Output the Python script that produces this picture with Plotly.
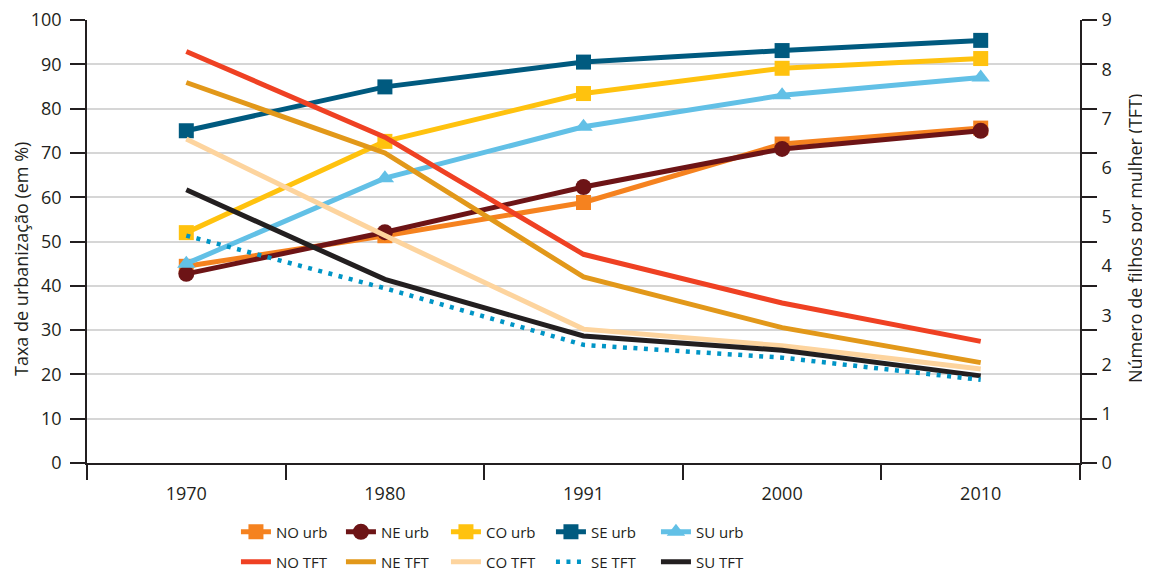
import plotly.graph_objects as go

years = ["1970", "1980", "1991", "2000", "2010"]

# Urbanization rate (%), left axis
no_urb = [44.4, 51.3, 58.8, 72.0, 75.6]
ne_urb = [42.7, 52.1, 62.3, 70.9, 75.0]
co_urb = [52.0, 72.6, 83.4, 89.1, 91.3]
se_urb = [75.0, 84.9, 90.5, 93.1, 95.4]
su_urb = [45.0, 64.3, 75.9, 83.0, 87.0]

# Total fertility rate (TFT), right axis
no_tft = [8.36, 6.62, 4.24, 3.25, 2.47]
ne_tft = [7.73, 6.30, 3.78, 2.75, 2.04]
co_tft = [6.58, 4.62, 2.72, 2.38, 1.91]
se_tft = [4.62, 3.55, 2.40, 2.14, 1.69]
su_tft = [5.55, 3.73, 2.58, 2.29, 1.77]

left_title = "Taxa de urbanização (em %)"
right_title = "Número de filhos por mulher (TFT)"

FONT = "Open Sans"
DARK = "#231f20"
TICK = 18

fig = go.Figure()

def tft(name, y, color, rank, dash="solid", width=5):
    fig.add_trace(go.Scatter(
        x=years, y=y, name=name, mode="lines", yaxis="y2",
        line=dict(color=color, width=width, dash=dash),
        legend="legend2", legendrank=rank))

def urb(name, y, color, symbol, rank, size=15):
    fig.add_trace(go.Scatter(
        x=years, y=y, name=name, mode="lines+markers",
        line=dict(color=color, width=5),
        marker=dict(color=color, symbol=symbol, size=size),
        legend="legend", legendrank=rank))

tft("CO TFT", co_tft, "#fdd49e", 3)
tft("SU TFT", su_tft, DARK, 5)
tft("SE TFT", se_tft, "#0095c6", 4, dash="4px,6.5px", width=4.5)
tft("NE TFT", ne_tft, "#e2981a", 2)
urb("NO urb", no_urb, "#f5821f", "square", 1)
urb("NE urb", ne_urb, "#6d1416", "circle", 2, 16)
urb("CO urb", co_urb, "#ffc20e", "square", 3)
urb("SE urb", se_urb, "#005a7f", "square", 4)
urb("SU urb", su_urb, "#62c0e6", "triangle-up", 5, 16)
tft("NO TFT", no_tft, "#ef4123", 1)

# plot area: top 12, bottom 455 (figure px), height 443
PH = 443.0

legend_common = dict(
    orientation="h", xanchor="left", yanchor="middle",
    font=dict(family=FONT, size=15, color=DARK),
    entrywidth=60, entrywidthmode="pixels", itemwidth=30,
    bgcolor="rgba(0,0,0,0)", traceorder="normal")

fig.update_layout(
    width=1150, height=575,
    margin=dict(l=79, r=78, t=12, b=120, autoexpand=False),
    paper_bgcolor="white", plot_bgcolor="white",
    font=dict(family=FONT, size=TICK, color=DARK),
    showlegend=True,
    legend=dict(x=0.15, y=-69 / PH, **legend_common),
    legend2=dict(x=0.15, y=-99 / PH, **legend_common),
    xaxis=dict(
        type="category", range=[-0.5, 4.5], automargin=False,
        showline=True, linecolor=DARK, linewidth=1.5,
        ticks="outside", tickson="boundaries", ticklen=15,
        tickcolor=DARK, tickwidth=1.5, showgrid=False,
        ticklabelstandoff=14, ticklabeloverflow="allow",
        tickfont=dict(family=FONT, size=TICK, color=DARK)),
    yaxis=dict(
        range=[0, 100], tickvals=list(range(0, 101, 10)), automargin=False,
        showline=True, linecolor=DARK, linewidth=1.5, mirror="ticks",
        ticks="outside", ticklen=15, tickcolor=DARK, tickwidth=1.5,
        ticklabelstandoff=5, ticklabeloverflow="allow",
        showgrid=True, gridcolor="#d6d6d6", gridwidth=1.5, zeroline=False,
        tickfont=dict(family=FONT, size=TICK, color=DARK)),
    yaxis2=dict(
        range=[0, 9], tickvals=list(range(0, 10)), automargin=False,
        overlaying="y", side="right", showline=False, showgrid=False,
        zeroline=False, ticks="outside", ticklen=17,
        tickcolor="rgba(0,0,0,0)", ticklabeloverflow="allow",
        tickfont=dict(family=FONT, size=TICK, color=DARK)),
    annotations=[
        dict(text=left_title, xref="paper", yref="paper", x=-0.0665, y=204 / PH,
             textangle=-90, showarrow=False, xanchor="center", yanchor="middle",
             font=dict(family=FONT, size=TICK, color=DARK)),
        dict(text=right_title, xref="paper", yref="paper", x=1.0554, y=224 / PH,
             textangle=-90, showarrow=False, xanchor="center", yanchor="middle",
             font=dict(family=FONT, size=TICK, color=DARK)),
    ],
)

fig.write_html("out.html")
